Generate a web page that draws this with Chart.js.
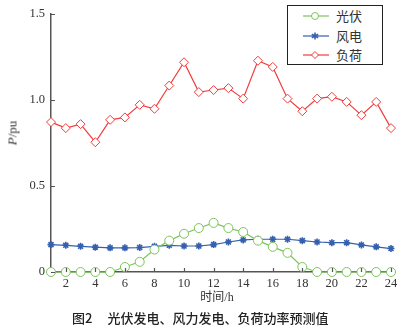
<!DOCTYPE html>
<html>
<head>
<meta charset="utf-8">
<script src="https://cdn.jsdelivr.net/npm/chart.js@4/dist/chart.umd.min.js"></script>
<style>
  html, body { margin: 0; padding: 0; background: #fff; }
  #wrap { position: relative; width: 410px; height: 328px; overflow: hidden; }
  #chart { position: absolute; left: 0; top: 0; }
  .txt { position: absolute; white-space: nowrap; line-height: 1; color: #333; font-weight: normal; }
  .serif { font-family: "Liberation Serif", "DejaVu Serif", serif; }
  #ytitle { left: 12px; top: 133px; transform: translate(-50%, -50%) rotate(-90deg); font-size: 13px; }
  #xtitle { left: 217px; top: 296px; transform: translate(-50%, -50%); font-size: 12px; }
  #xtitle .cjk { font-family: "Noto Sans CJK SC", sans-serif; font-size: 12px; }
  #caption { left: 72px; top: 311px; font-size: 13px; font-family: "Noto Sans CJK SC", sans-serif; font-weight: 500; color: #222; }
  #caption .gap { display: inline-block; width: 15px; }
  #legend { position: absolute; left: 287px; top: 5px; width: 94px; height: 58px;
            border: 1px solid #222; background: #fff; }
  .row { position: absolute; left: 0; height: 16px; width: 94px; }
  .row svg { position: absolute; left: 14px; top: 0; }
  .row span { position: absolute; left: 48px; top: 1px; font: 13px "Noto Sans CJK SC", sans-serif; color: #333; line-height: 1; }
</style>
</head>
<body>
<div id="wrap">
  <canvas id="chart" width="410" height="328"></canvas>
  <div class="txt serif" id="ytitle"><i>P</i>/pu</div>
  <div class="txt serif" id="xtitle"><span class="cjk">时间</span>/h</div>
  <div class="txt" id="caption">图2<span class="gap"></span>光伏发电、风力发电、负荷功率预测值</div>
  <div id="legend"></div>
</div>
<script>
var hours = [1,2,3,4,5,6,7,8,9,10,11,12,13,14,15,16,17,18,19,20,21,22,23,24];
var pvValues = [0,0,0,0,0,0.029,0.059,0.13,0.182,0.222,0.255,0.285,0.255,0.232,0.182,0.146,0.111,0.029,0,0,0,0,0,0];
var windValues = [0.159,0.155,0.149,0.144,0.14,0.14,0.142,0.149,0.155,0.151,0.151,0.159,0.174,0.186,0.19,0.19,0.19,0.182,0.174,0.17,0.17,0.157,0.146,0.136];
var loadValues = [0.87,0.835,0.858,0.753,0.883,0.897,0.97,0.947,1.082,1.217,1.044,1.056,1.067,1.006,1.226,1.19,1.006,0.933,1.006,1.017,0.987,0.91,0.987,0.835];
var seriesNames = ['光伏', '风电', '负荷'];
var xTicks = [2,4,6,8,10,12,14,16,18,20,22,24];
var yTicks = [0, 0.5, 1.0, 1.5];
var yTickLabels = ['0', '0.5', '1.0', '1.5'];

(function(){
  var colors = ['#7cc45a', '#3560b0', '#f03c3c'];
  var axisColor = '#555';

  function toPoints(vals) {
    return vals.map(function(v, i){ return { x: hours[i], y: v }; });
  }

  // inward tick marks, like the original plot
  var innerTicks = {
    id: 'innerTicks',
    afterDraw: function(chart) {
      var ctx = chart.ctx, a = chart.chartArea;
      var xs = chart.scales.x, ys = chart.scales.y;
      ctx.save();
      ctx.strokeStyle = axisColor;
      ctx.lineWidth = 1.2;
      ctx.beginPath();
      xs.ticks.forEach(function(t){
        var px = Math.round(xs.getPixelForValue(t.value)) + 0.5;
        ctx.moveTo(px, a.bottom); ctx.lineTo(px, a.bottom - 4);
      });
      ys.ticks.forEach(function(t){
        var py = Math.round(ys.getPixelForValue(t.value)) + 0.5;
        ctx.moveTo(a.left, py); ctx.lineTo(a.left + 4, py);
      });
      ctx.stroke();
      ctx.restore();
    }
  };

  var styles = [
    { pointStyle: 'circle', pointRadius: 4.5, fill: '#fff', bw: 1 },
    { pointStyle: 'star', pointRadius: 3.5, fill: colors[1], bw: 1.6 },
    { pointStyle: 'rectRot', pointRadius: 4.5, fill: '#fff', bw: 1 }
  ];
  var allValues = [pvValues, windValues, loadValues];

  var datasets = allValues.map(function(vals, i){
    return {
      label: seriesNames[i],
      data: toPoints(vals),
      borderColor: colors[i],
      borderWidth: 1.2,
      pointStyle: styles[i].pointStyle,
      pointRadius: styles[i].pointRadius,
      pointBorderWidth: styles[i].bw,
      pointBackgroundColor: styles[i].fill,
      pointBorderColor: colors[i],
      tension: 0,
      clip: false
    };
  });

  var tickFont = { family: '"Liberation Serif", "DejaVu Serif", serif', size: 12.5 };

  new Chart(document.getElementById('chart').getContext('2d'), {
    type: 'line',
    data: { datasets: datasets },
    options: {
      responsive: false,
      animation: false,
      layout: { padding: { left: 0, top: 11, right: 19, bottom: 0 } },
      plugins: { legend: { display: false }, tooltip: { enabled: false } },
      scales: {
        x: {
          type: 'linear', min: 1, max: 24,
          afterBuildTicks: function(s){ s.ticks = xTicks.map(function(v){ return { value: v }; }); },
          afterFit: function(s){ s.height = 56; },
          grid: { display: true, drawOnChartArea: false, drawTicks: false },
          border: { display: true, color: axisColor, width: 1.5 },
          ticks: { font: tickFont, color: '#333', padding: 4, maxRotation: 0, autoSkip: false }
        },
        y: {
          min: 0, max: 1.5,
          afterBuildTicks: function(s){ s.ticks = yTicks.map(function(v){ return { value: v }; }); },
          afterFit: function(s){ s.width = 51; },
          grid: { display: true, drawOnChartArea: false, drawTicks: false },
          border: { display: true, color: axisColor, width: 1.5 },
          ticks: {
            font: tickFont, color: '#333', padding: 6,
            callback: function(v){ var i = yTicks.indexOf(v); return i >= 0 ? yTickLabels[i] : ''; }
          }
        }
      }
    },
    plugins: [innerTicks]
  });

  // legend box, built from the same series names
  var legend = document.getElementById('legend');
  var markers = [
    '<circle cx="13" cy="8" r="3.5" fill="#fff" stroke="' + colors[0] + '" stroke-width="1"/>',
    '<path d="M13 4.5 V11.5 M9.8 6.2 L16.2 9.8 M9.8 9.8 L16.2 6.2" stroke="' + colors[1] + '" stroke-width="1.6"/>',
    '<path d="M13 4.5 L16.5 8 L13 11.5 L9.5 8 Z" fill="#fff" stroke="' + colors[2] + '" stroke-width="1"/>'
  ];
  seriesNames.forEach(function(name, i){
    var row = document.createElement('div');
    row.className = 'row';
    row.style.top = (2 + i * 19.5) + 'px';
    row.innerHTML = '<svg width="28" height="16"><line x1="1" y1="8" x2="27" y2="8" stroke="' + colors[i] +
      '" stroke-width="1.2"/>' + markers[i] + '</svg><span>' + name + '</span>';
    legend.appendChild(row);
  });
})();
</script>
</body>
</html>
